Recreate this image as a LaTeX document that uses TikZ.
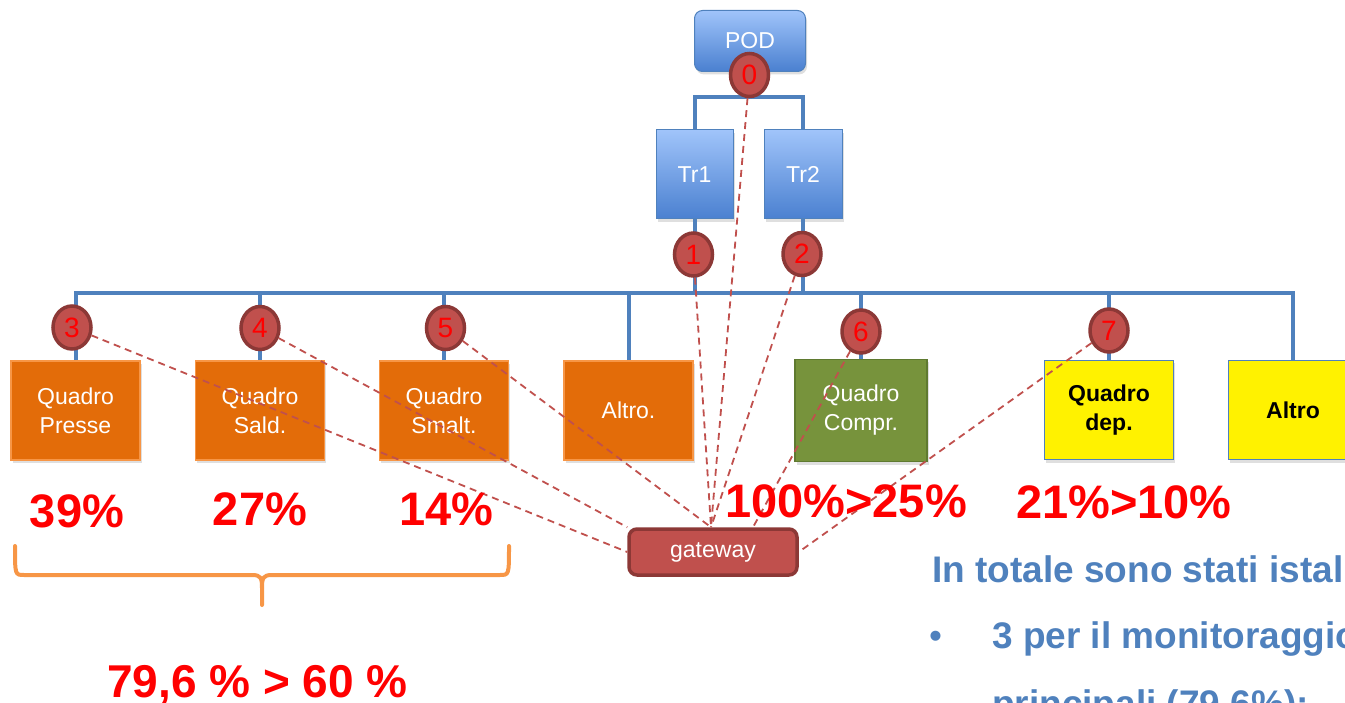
\documentclass[tikz,border=0pt]{standalone}
\usepackage{fontspec}
\setmainfont{Liberation Sans}
\usetikzlibrary{shapes.geometric,calc,shadows}
\definecolor{busblue}{HTML}{4F81BD}
\definecolor{ored}{HTML}{E36C09}
\definecolor{oredb}{HTML}{F79646}
\definecolor{cred}{HTML}{C0504D}
\definecolor{credd}{HTML}{8C3836}
\definecolor{cgreen}{HTML}{77933C}
\definecolor{cgreend}{HTML}{5F7A30}
\definecolor{blight}{HTML}{A0C4FA}
\definecolor{bdark}{HTML}{4A80D0}
\definecolor{txtblue}{HTML}{4F81BD}
\tikzset{
  bus/.style={draw=busblue, line width=4pt},
  shad/.style={drop shadow={opacity=0.25, shadow xshift=1.5pt, shadow yshift=-3pt}},
  blubox/.style={draw=busblue, line width=1pt, top color=blight, bottom color=bdark, text=white,
    font=\fontsize{23}{28}\selectfont, inner sep=0pt, shad},
  boxbase/.style={minimum width=129pt, minimum height=99pt, align=center, inner sep=0pt,
    font=\fontsize{23}{29}\selectfont, shad},
  obox/.style={boxbase, draw=oredb, line width=1.5pt, fill=ored, text=white},
  gbox/.style={boxbase, draw=cgreend, line width=1.5pt, fill=cgreen, text=white, minimum width=132pt, minimum height=102pt},
  ybox/.style={boxbase, draw=busblue, line width=1.2pt, fill=yellow, text=black, font=\fontsize{23}{29}\selectfont\bfseries},
  meter/.style={ellipse, minimum width=38pt, minimum height=43pt, inner sep=0pt, fill=cred, draw=credd,
    line width=3.5pt, text=red, font=\fontsize{28}{28}\selectfont},
  gwbox/.style={rounded corners=8pt, minimum width=168pt, minimum height=46pt, inner sep=0pt, fill=cred,
    draw=credd, line width=3.5pt, text=white, font=\fontsize{23}{28}\selectfont},
  link/.style={draw=cred, line width=1.8pt, dash pattern=on 7pt off 5pt},
  pct/.style={anchor=base, text=red, font=\fontsize{47}{47}\selectfont\bfseries, inner sep=0pt},
  brace/.style={draw=oredb, line width=4pt, line cap=round, line join=round},
  info/.style={anchor=base west, text=txtblue, font=\fontsize{37}{42}\selectfont\bfseries, inner sep=0pt}
}
\begin{document}
\begin{tikzpicture}[x=1pt, y=-1pt]
\useasboundingbox (0,0) rectangle (1345,703);
\clip (0,0) rectangle (1345,703);

% top blocks
\node[blubox, rounded corners=8pt, minimum width=111pt, minimum height=61pt] (pod) at (750,41) {POD};
\node[blubox, minimum width=77pt, minimum height=89pt] (tr1) at (694.5,174.5) {Tr1};
\node[blubox, minimum width=78pt, minimum height=89pt] (tr2) at (803,174.5) {Tr2};

% lower boxes
\node[obox] (presse) at (75.5,410.5) {Quadro\\Presse};
\node[obox] (sald) at (260,410.5) {Quadro\\Sald.};
\node[obox] (smalt) at (444,410.5) {Quadro\\Smalt.};
\node[obox] (altroA) at (628.5,410.5) {Altro.};
\node[gbox] (compr) at (861,410.5) {Quadro\\Compr.};
\node[ybox] (dep) at (1109,410) {Quadro\\dep.};
\node[ybox] (altroB) at (1293,410) {Altro};

% buses
\draw[bus] (pod.south) -- (pod.south |- 0,97);
\draw[bus] (tr1.north) -- (tr1.north |- 0,97) -- (tr2.north |- 0,97) -- (tr2.north);
\draw[bus] (tr1.south) -- (tr1.south |- 0,293);
\draw[bus] (tr2.south) -- (tr2.south |- 0,293);
\draw[bus] (presse.north) -- (presse.north |- 0,293) -- (altroB.north |- 0,293) -- (altroB.north);
\draw[bus] (sald.north) -- (sald.north |- 0,293);
\draw[bus] (smalt.north) -- (smalt.north |- 0,293);
\draw[bus] (altroA.north) -- (altroA.north |- 0,293);
\draw[bus] (compr.north) -- (compr.north |- 0,293);
\draw[bus] (dep.north) -- (dep.north |- 0,293);

% gateway and meters
\node[gwbox] (gw) at (713,552) {gateway};
\coordinate (gwtop) at ($(gw.north)+(-2,0)$);
\coordinate (gwtopr) at ($(gw.north)+(40,0)$);

\node[meter] (c0) at (749.5,75) {0};
\node[meter] (c1) at (693.5,254.5) {1};
\node[meter] (c2) at (802,254) {2};
\node[meter] (c3) at (72,327.5) {3};
\node[meter] (c4) at (260,328) {4};
\node[meter] (c5) at (445.5,328) {5};
\node[meter] (c6) at (861,331.5) {6};
\node[meter] (c7) at (1109,330.5) {7};

% dashed links
\draw[link] (c0) -- (gwtop);
\draw[link] (c1) -- (gwtop);
\draw[link] (c2) -- (gwtop);
\draw[link] (c5) -- (gwtop);
\draw[link] (c4) -- (gw.north west);
\draw[link] (c3) -- (gw.west);
\draw[link] (c6) -- (gwtopr);
\draw[link] (c7) -- (gw.east);

% percentages
\node[pct] (p3) at (77,527) {39\%};
\node[pct] (p4) at (260,525) {27\%};
\node[pct] (p5) at (446.5,525) {14\%};
\node[pct] (p6) at (846,517) {100\%>25\%};
\node[pct] (p7) at (1124,518) {21\%>10\%};

% brace
\draw[brace] (15,546) .. controls (15,575) .. (24,575) -- (252,575)
  .. controls (261,575) and (262,578) .. (262,588) -- (262,605);
\draw[brace] (262,588) .. controls (262,578) and (263,575) .. (272,575) -- (500,575)
  .. controls (509,575) .. (509,546);
\node[pct, font=\fontsize{46}{46}\selectfont\bfseries] (tot) at (257.5,697) {79,6 \% > 60 \%};

% text on the right
\node[info] (t1) at (932,582) {In totale sono stati istallati};
\node[info, font=\fontsize{37}{42}\selectfont] (bul) at (929,648) {•};
\node[info] (t2) at (992,648) {3 per il monitoraggio dei};
\node[info] (t3) at (992,716) {principali (79,6\%):};
\end{tikzpicture}
\end{document}
